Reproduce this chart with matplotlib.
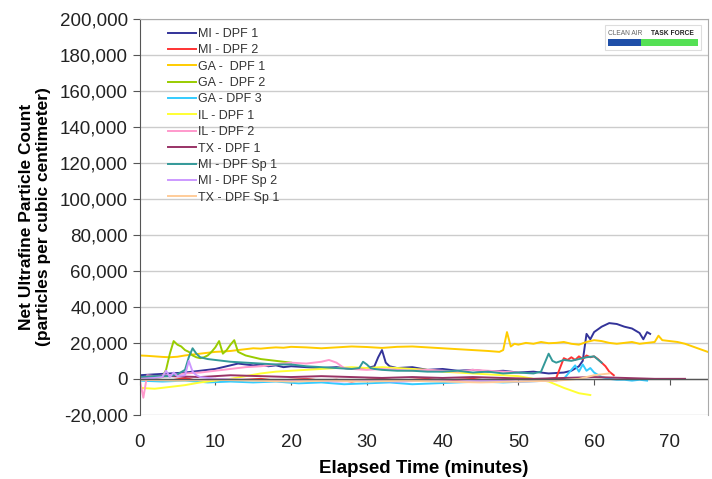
import matplotlib
matplotlib.use("Agg")
import matplotlib.pyplot as plt
from matplotlib.ticker import FuncFormatter
from matplotlib.patches import Rectangle

plt.rcParams['font.family'] = ['Liberation Sans', 'DejaVu Sans']

names = ["MI - DPF 1", "MI - DPF 2", "GA -  DPF 1", "GA -  DPF 2", "GA - DPF 3",
         "IL - DPF 1", "IL - DPF 2", "TX - DPF 1", "MI - DPF Sp 1", "MI - DPF Sp 2",
         "TX - DPF Sp 1"]
colors = ["#333399", "#ff3333", "#ffcc00", "#99cc00", "#33ccff", "#ffff33",
          "#ff99cc", "#993366", "#339999", "#cc99ff", "#ffcc99"]

# MI - DPF 1
t_mi1 = [0, 2, 4, 6, 8, 10, 11, 12, 13, 14,
         15, 16, 17, 18, 19, 20, 22, 24, 26, 28,
         30, 31, 31.5, 32, 32.5, 33, 34, 36, 38, 40,
         42, 44, 46, 48, 50, 52, 54, 56, 57, 58,
         58.5, 59, 59.5, 60, 61, 62, 63, 64, 65, 66,
         66.5, 67, 67.4]
v_mi1 = [2000, 2500, 3000, 3500, 4500, 5500, 6500, 7500, 8500, 8000,
         7500, 8000, 7000, 7500, 6500, 7000, 6500, 6000, 6500, 5500,
         6000, 7000, 12000, 16000, 9000, 7000, 6000, 6500, 5000, 5500,
         4500, 5000, 4000, 4500, 3500, 4000, 3000, 3500, 4500, 7000,
         10000, 25000, 22000, 26000, 29000, 31000, 30500, 29000, 28000, 25500,
         22000, 26000, 25000]

# MI - DPF 2
t_mi2 = [0, 2, 4, 6, 8, 10, 12, 14, 16, 18,
         20, 22, 24, 26, 28, 30, 32, 34, 36, 38,
         40, 42, 44, 46, 48, 50, 52, 54, 55, 55.5,
         56, 56.5, 57, 57.5, 58, 58.5, 59, 59.5, 60, 60.5,
         61, 61.5, 62, 62.6]
v_mi2 = [0, -500, -1000, 500, -1500, 0, -1000, -500, 0, -1000,
         -500, 0, -1000, -500, -1500, -500, 0, -1000, -500, 0,
         -1000, -500, 0, -1000, -500, 0, -500, 0, 500, 6000,
         11500, 10500, 12000, 10500, 12500, 11000, 13000, 12000, 12500, 11000,
         9000, 7000, 4000, 2000]

# GA - DPF 1
t_ga1 = [0, 1, 2, 3, 4, 5, 6, 7, 8, 9,
         10, 11, 12, 13, 14, 15, 16, 17, 18, 19,
         20, 22, 24, 26, 28, 30, 32, 34, 36, 38,
         40, 42, 44, 46, 47.5, 48, 48.5, 49, 49.5, 50,
         51, 52, 53, 54, 55, 56, 57, 58, 59, 60,
         61, 62, 63, 64, 65, 66, 67, 68, 68.5, 69,
         70, 71, 72, 73, 74, 75]
v_ga1 = [13000, 12800, 12500, 12200, 12000, 12300, 13000, 13500, 14000, 14500,
         15000, 15200, 15500, 16000, 16500, 17000, 16800, 17200, 17500, 17300,
         17800, 17500, 17000, 17500, 18000, 17700, 17200, 17800, 18000, 17500,
         17000, 16500, 16000, 15500, 15000, 16000, 26000, 18000, 19500, 19000,
         20000, 19500, 20500, 19800, 20000, 20500, 19500, 19000, 20500, 21500,
         21000, 20000, 19500, 20000, 20500, 19500, 20000, 20500, 24000, 21500,
         21000, 20500, 19500, 18000, 16500, 15000]

# GA - DPF 2
t_ga2 = [0, 1, 2, 3, 3.5, 4, 4.5, 5, 5.5, 6,
         6.5, 7, 7.5, 8, 8.5, 9, 9.5, 10, 10.5, 11,
         11.5, 12, 12.5, 13, 13.5, 14, 15, 16, 17, 18,
         19, 20]
v_ga2 = [500, 0, 500, 1000, 5000, 14000, 21000, 19000, 18000, 16000,
         15000, 13000, 12000, 11500, 12000, 13000, 15000, 17500, 21000, 14000,
         16000, 19000, 21500, 15000, 14000, 13000, 12000, 11000, 10500, 10000,
         9500, 9000]

# GA - DPF 3
t_ga3 = [0, 3, 6, 9, 12, 15, 18, 21, 24, 27,
         30, 33, 36, 39, 42, 45, 48, 51, 54, 56,
         57, 57.5, 58, 58.5, 59, 59.5, 60, 61, 62, 63,
         64, 65, 66, 67]
v_ga3 = [-1000, -1500, -1000, -2000, -1500, -2000, -1500, -2500, -2000, -3000,
         -2500, -2000, -3000, -2500, -2000, -1500, -2000, -1500, -1000, 0,
         5000, 7500, 4000, 8000, 4500, 6000, 3500, 1000, 0, -500,
         -500, -1000, -500, -1000]

# IL - DPF 1
t_il1 = [0, 2, 4, 6, 8, 10, 12, 14, 16, 18,
         20, 22, 24, 26, 28, 30, 32, 34, 36, 38,
         40, 42, 44, 46, 48, 50, 52, 54, 56, 58,
         59.5]
v_il1 = [-5000, -5500, -4500, -3500, -2000, -1000, 0, 1500, 3000, 4000,
         4500, 5000, 5500, 6000, 6500, 6000, 6500, 6000, 5500, 5000,
         4000, 3500, 3000, 2500, 2000, 1500, 0, -1500, -5000, -8000,
         -9000]

# IL - DPF 2
t_il2 = [0, 0.5, 1, 2, 4, 6, 8, 10, 12, 14,
         16, 18, 20, 22, 24, 25, 26, 27, 28, 30,
         32, 34, 36, 38, 40, 42, 44, 46, 48, 50]
v_il2 = [0, -10500, 2000, 1500, 2000, 3000, 3500, 4500, 5500, 6500,
         7000, 8000, 9000, 8500, 9500, 10500, 9000, 6000, 5500, 5000,
         5500, 5000, 4500, 5000, 4500, 4000, 5000, 4500, 4000, 3500]

# TX - DPF 1
t_tx1 = [0, 4, 8, 12, 16, 20, 24, 28, 32, 36,
         40, 44, 48, 52, 56, 60, 64, 68, 72]
v_tx1 = [1000, 1500, 1000, 2000, 1500, 1000, 1500, 1000, 500, 1000,
         500, 1000, 500, 0, 500, 1000, 500, 0, 0]

# MI - DPF Sp 1
t_misp1 = [0, 2, 4, 5, 6, 6.5, 7, 7.5, 8, 9,
           10, 11, 12, 14, 16, 18, 20, 22, 24, 26,
           28, 29, 29.5, 30, 30.5, 31, 32, 34, 36, 38,
           40, 42, 44, 46, 48, 50, 52, 53, 53.5, 54,
           54.5, 55, 56, 57, 58, 59, 60, 61]
v_misp1 = [1000, 1500, 1500, 2500, 5000, 12000, 17000, 14000, 12000, 11000,
           10500, 10000, 9500, 9000, 8500, 8000, 8000, 7000, 6500, 6000,
           5500, 6000, 9500, 8000, 6000, 5500, 5000, 4500, 4500, 4000,
           4000, 4500, 3500, 4000, 3000, 3500, 3000, 4000, 9000, 14000,
           10000, 9000, 10500, 10000, 11000, 12000, 12500, 9000]

# MI - DPF Sp 2
t_misp2 = [0, 2, 3, 3.5, 4, 4.5, 5, 6, 6.5, 7,
           7.5, 8, 10, 14, 18, 22, 26, 30, 34, 38,
           42, 46, 50, 55]
v_misp2 = [0, 500, 1000, 4500, 1000, 3500, 1500, 2000, 10000, 4000,
           2000, 1000, 0, -500, -1000, -500, -1500, -1000, -1500, -1000,
           -1500, -1000, -1500, -1000]

# TX - DPF Sp 1
t_txsp1 = [0, 5, 10, 15, 20, 25, 30, 35, 40, 45,
           50, 55, 58, 60, 62]
v_txsp1 = [-500, -1000, -500, -1000, -1500, -1000, -1500, -1000, -1500, -2000,
           -1500, -1000, 0, 2000, 3000]

series = [(t_mi1, v_mi1), (t_mi2, v_mi2), (t_ga1, v_ga1), (t_ga2, v_ga2),
          (t_ga3, v_ga3), (t_il1, v_il1), (t_il2, v_il2), (t_tx1, v_tx1),
          (t_misp1, v_misp1), (t_misp2, v_misp2), (t_txsp1, v_txsp1)]

fig = plt.figure(figsize=(7.12, 4.79), dpi=100)
ax = fig.add_axes([0.196, 0.134, 0.798, 0.826])

for (t, v), name, c in zip(series, names, colors):
    ax.plot(t, v, color=c, lw=1.4, label=name)

ax.set_xlim(0, 75)
ax.set_ylim(-20000, 200000)
ax.set_yticks(range(-20000, 200001, 20000))
ax.set_xticks(range(0, 71, 10))
ax.yaxis.set_major_formatter(FuncFormatter(lambda y, p: f"{int(y):,}"))
ax.yaxis.grid(True, color="#cccccc", lw=1)
ax.set_axisbelow(True)
for s in ["top", "right"]:
    ax.spines[s].set_color("#aaaaaa")
ax.spines["bottom"].set_visible(False)
ax.spines["left"].set_color("#555555")
ax.tick_params(axis="y", labelsize=13.5, direction="out", length=5, color="#555555",
               labelcolor="#222222")
ax.tick_params(axis="x", labelsize=13.5, length=0, pad=14, labelcolor="#222222")

# category axis crosses at zero
ax.axhline(0, color="#555555", lw=1)
sec = ax.secondary_xaxis(20000 / 220000)
sec.set_xticks(range(0, 71, 10))
sec.tick_params(axis="x", direction="out", length=4, color="#555555", labelbottom=False,
                labeltop=False)
sec.spines["bottom"].set_visible(False)
sec.spines["top"].set_visible(False)

ax.set_xlabel("Elapsed Time (minutes)", fontsize=13.5, fontweight="bold", labelpad=6)
ax.set_ylabel("Net Ultrafine Particle Count\n(particles per cubic centimeter)",
              fontsize=12.5, fontweight="bold", labelpad=6)

leg = ax.legend(loc="upper left", bbox_to_anchor=(0.035, 1.0), frameon=False,
                fontsize=9, handlelength=2.2, handletextpad=0.2, labelspacing=0.35,
                borderaxespad=0.3)
for text in leg.get_texts():
    text.set_color("#333333")

# logo
ax.add_patch(Rectangle((0.82, 0.922), 0.168, 0.062, transform=ax.transAxes,
                       facecolor="white", edgecolor="#dddddd", lw=0.8))
ax.text(0.825, 0.965, "CLEAN AIR", transform=ax.transAxes, fontsize=4.8,
        color="#666666", va="center")
ax.text(0.9, 0.965, "TASK FORCE", transform=ax.transAxes, fontsize=4.8,
        color="#222222", fontweight="bold", va="center")
ax.add_patch(Rectangle((0.825, 0.932), 0.058, 0.018, transform=ax.transAxes,
                       color="#1f4fa8", lw=0))
ax.add_patch(Rectangle((0.883, 0.932), 0.10, 0.018, transform=ax.transAxes,
                       color="#55e055", lw=0))

fig.savefig("out.png", dpi=100)
